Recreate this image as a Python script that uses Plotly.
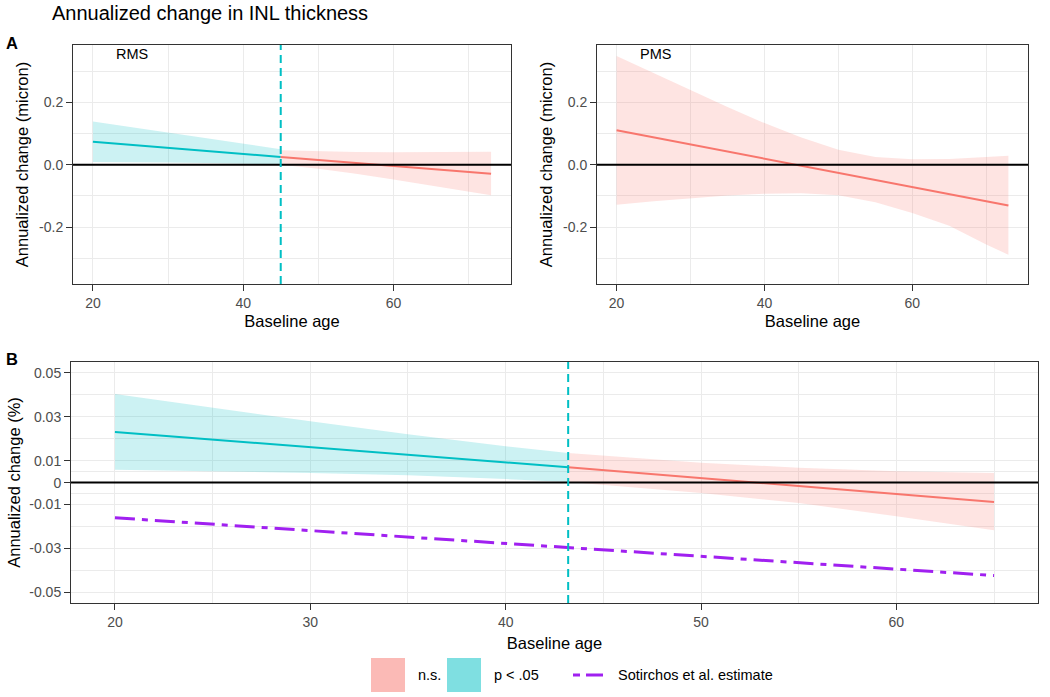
import plotly.graph_objects as go

# ---------------- data ----------------
# Panel A (left): RMS, micron
rms_sig_age = [20, 25, 30, 35, 40, 45]
rms_sig_fit = [0.074, 0.064, 0.054, 0.045, 0.035, 0.025]
rms_sig_upper = [0.139, 0.121, 0.104, 0.086, 0.068, 0.050]
rms_sig_lower = [0.0087, 0.0080, 0.0075, 0.0060, 0.0040, 0.0005]

rms_ns_age = [45, 50, 55, 60, 65, 70, 73]
rms_ns_fit = [0.025, 0.015, 0.006, -0.004, -0.013, -0.023, -0.029]
rms_ns_upper = [0.047, 0.043, 0.041, 0.040, 0.040, 0.041, 0.042]
rms_ns_lower = [0.0005, -0.013, -0.029, -0.047, -0.066, -0.086, -0.098]

# Panel A (right): PMS, micron
pms_age = [20, 25, 30, 35, 40, 45, 50, 55, 60, 65, 70, 73]
pms_fit = [0.111, 0.088, 0.065, 0.043, 0.020, -0.003, -0.026, -0.049, -0.072, -0.094, -0.117, -0.131]
pms_upper = [0.350, 0.295, 0.240, 0.186, 0.134, 0.088, 0.048, 0.025, 0.018, 0.019, 0.025, 0.029]
pms_lower = [-0.128, -0.117, -0.107, -0.099, -0.093, -0.091, -0.098, -0.120, -0.155, -0.196, -0.256, -0.289]

# Panel B: percent
pct_sig_age = [20, 25, 30, 35, 40, 43.2]
pct_sig_fit = [0.0230, 0.0196, 0.0161, 0.0127, 0.0092, 0.0070]
pct_sig_upper = [0.0403, 0.0340, 0.0279, 0.0220, 0.0165, 0.0135]
pct_sig_lower = [0.0059, 0.0052, 0.0044, 0.0033, 0.0016, 0.0003]

pct_ns_age = [43.2, 47, 50, 55, 60, 65]
pct_ns_fit = [0.0070, 0.0042, 0.0021, -0.0016, -0.0052, -0.0088]
pct_ns_upper = [0.0135, 0.0108, 0.0090, 0.0068, 0.0052, 0.0044]
pct_ns_lower = [0.0003, -0.0025, -0.0047, -0.0093, -0.0153, -0.0217]

sotirchos_age = [20, 65]
sotirchos_est = [-0.0160, -0.0423]

rms_cut = 45
pct_cut = 43.2

# ticks
a_xticks = [20, 40, 60]
a_yticks = [-0.2, 0.0, 0.2]
a_yticktext = ["-0.2", "0.0", "0.2"]
b_xticks = [20, 30, 40, 50, 60]
b_yticks = [-0.05, -0.03, -0.01, 0, 0.01, 0.03, 0.05]
b_yticktext = ["-0.05", "-0.03", "-0.01", "0", "0.01", "0.03", "0.05"]
b_yminor = [-0.04, -0.02, -0.005, 0.005, 0.02, 0.04]

legend_labels = ["n.s.", "p < .05", "Sotirchos et al. estimate"]

# ---------------- style ----------------
RED = "#F8766D"
TEAL = "#00BFC4"
PURPLE = "#A020F0"
RED_FILL = "rgba(248,118,109,0.2)"
TEAL_FILL = "rgba(0,191,196,0.2)"
FONT = "Liberation Sans, Arial, sans-serif"
W, H = 1050, 697


def px(x):
    return x / W


def py(y):
    return 1 - y / H


fig = go.Figure()


def band(age, up, lo, fill, xa, ya, name):
    fig.add_trace(go.Scatter(
        x=list(age) + list(age)[::-1], y=list(up) + list(lo)[::-1],
        fill="toself", fillcolor=fill, line=dict(width=0), mode="lines",
        xaxis=xa, yaxis=ya, showlegend=False, hoverinfo="skip", name=name))


def fitline(age, fit, color, xa, ya, name):
    fig.add_trace(go.Scatter(
        x=age, y=fit, mode="lines", line=dict(color=color, width=2),
        xaxis=xa, yaxis=ya, showlegend=False, name=name))


# Panel A left
band(rms_sig_age, rms_sig_upper, rms_sig_lower, TEAL_FILL, "x", "y", "p < .05")
band(rms_ns_age, rms_ns_upper, rms_ns_lower, RED_FILL, "x", "y", "n.s.")
fitline(rms_sig_age, rms_sig_fit, TEAL, "x", "y", "p < .05")
fitline(rms_ns_age, rms_ns_fit, RED, "x", "y", "n.s.")

# Panel A right
band(pms_age, pms_upper, pms_lower, RED_FILL, "x2", "y2", "n.s.")
fitline(pms_age, pms_fit, RED, "x2", "y2", "n.s.")

# Panel B
band(pct_sig_age, pct_sig_upper, pct_sig_lower, TEAL_FILL, "x3", "y3", "p < .05")
band(pct_ns_age, pct_ns_upper, pct_ns_lower, RED_FILL, "x3", "y3", "n.s.")
fitline(pct_sig_age, pct_sig_fit, TEAL, "x3", "y3", "p < .05")
fitline(pct_ns_age, pct_ns_fit, RED, "x3", "y3", "n.s.")
fig.add_trace(go.Scatter(
    x=sotirchos_age, y=sotirchos_est, mode="lines",
    line=dict(color=PURPLE, width=3, dash="20px,7px,6px,7px"),
    xaxis="x3", yaxis="y3", showlegend=False, name=legend_labels[2]))

GRID = "#EBEBEB"
BORDER = "#333333"
TICKFONT = dict(family=FONT, size=14, color="#4D4D4D")
TITLEFONT = dict(family=FONT, size=16.5, color="black")


def xaxis(domain, anchor, rng, ticks, minor_dtick, standoff):
    return dict(domain=domain, anchor=anchor, range=rng, tickmode="array",
                tickvals=ticks, ticktext=[str(t) for t in ticks],
                showgrid=True, gridcolor=GRID, gridwidth=1.2,
                minor=dict(dtick=minor_dtick, tick0=0, showgrid=True, gridcolor=GRID, gridwidth=0.6, ticks=""),
                showline=True, linecolor=BORDER, linewidth=1, mirror=True,
                ticks="outside", ticklen=6, tickcolor=BORDER, tickwidth=1,
                tickfont=TICKFONT, zeroline=False,
                title=dict(text="Baseline age", font=TITLEFONT, standoff=standoff))


def yaxis(domain, anchor, rng, ticks, text, minor, title, standoff):
    m = dict(showgrid=True, gridcolor=GRID, gridwidth=0.6, ticks="")
    m.update(minor)
    return dict(domain=domain, anchor=anchor, range=rng, tickmode="array",
                tickvals=ticks, ticktext=text,
                showgrid=True, gridcolor=GRID, gridwidth=1.2, minor=m,
                showline=True, linecolor=BORDER, linewidth=1, mirror=True,
                ticks="outside", ticklen=6, tickcolor=BORDER, tickwidth=1,
                tickfont=TICKFONT, zeroline=False,
                title=dict(text=title, font=TITLEFONT, standoff=standoff))


a_ydom = [py(284), py(45)]
b_ydom = [py(603), py(362)]

fig.update_layout(
    width=W, height=H, margin=dict(l=0, r=0, t=0, b=0),
    paper_bgcolor="white", plot_bgcolor="white",
    font=dict(family=FONT),
    showlegend=False,
    xaxis=xaxis([px(73), px(511)], "y", [17.35, 75.65], a_xticks, 10, 5),
    yaxis=yaxis(a_ydom, "x", [-0.383, 0.385], a_yticks, a_yticktext,
                dict(dtick=0.1, tick0=0.1), "Annualized change (micron)", 6),
    xaxis2=xaxis([px(597), px(1028)], "y2", [17.35, 75.65], a_xticks, 10, 5),
    yaxis2=yaxis(a_ydom, "x2", [-0.383, 0.385], a_yticks, a_yticktext,
                 dict(dtick=0.1, tick0=0.1), "Annualized change (micron)", 6),
    xaxis3=xaxis([px(71), px(1038)], "y3", [17.75, 67.25], b_xticks, 5, 8),
    yaxis3=yaxis(b_ydom, "x3", [-0.0548, 0.0549], b_yticks, b_yticktext,
                 dict(tickmode="array", tickvals=b_yminor), "Annualized change (%)", 4),
)

shapes = []
# zero lines
for xa, ya in [("x", "y"), ("x2", "y2"), ("x3", "y3")]:
    shapes.append(dict(type="line", xref=f"{xa} domain", x0=0, x1=1, yref=ya, y0=0, y1=0,
                       line=dict(color="black", width=2)))
# cut points
shapes.append(dict(type="line", xref="x", x0=rms_cut, x1=rms_cut, yref="y domain", y0=0, y1=1,
                   line=dict(color=TEAL, width=2, dash="8px,5px")))
shapes.append(dict(type="line", xref="x3", x0=pct_cut, x1=pct_cut, yref="y3 domain", y0=0, y1=1,
                   line=dict(color=TEAL, width=2, dash="8px,5px")))

# legend (manual, ggplot-style large keys)
shapes.append(dict(type="rect", xref="paper", yref="paper", x0=px(371), x1=px(405), y0=py(692), y1=py(658),
                   fillcolor="rgba(248,118,109,0.5)", line=dict(width=0)))
shapes.append(dict(type="rect", xref="paper", yref="paper", x0=px(447), x1=px(481), y0=py(692), y1=py(658),
                   fillcolor="rgba(0,191,196,0.5)", line=dict(width=0)))
shapes.append(dict(type="line", xref="paper", yref="paper", x0=px(573), x1=px(580), y0=py(675), y1=py(675),
                   line=dict(color=PURPLE, width=3)))
shapes.append(dict(type="line", xref="paper", yref="paper", x0=px(586), x1=px(603), y0=py(675), y1=py(675),
                   line=dict(color=PURPLE, width=3)))
fig.update_layout(shapes=shapes)

ann = []
ann.append(dict(text="Annualized change in INL thickness", xref="paper", yref="paper",
                x=px(50), y=py(13), xanchor="left", yanchor="middle", showarrow=False,
                font=dict(family=FONT, size=20, color="black")))
ann.append(dict(text="<b>A</b>", xref="paper", yref="paper", x=px(4), y=py(43),
                xanchor="left", yanchor="middle", showarrow=False,
                font=dict(family=FONT, size=16.5, color="black")))
ann.append(dict(text="<b>B</b>", xref="paper", yref="paper", x=px(4), y=py(359),
                xanchor="left", yanchor="middle", showarrow=False,
                font=dict(family=FONT, size=16.5, color="black")))
ann.append(dict(text="RMS", xref="x", yref="y", x=25.2, y=0.357, showarrow=False,
                font=dict(family=FONT, size=14.5, color="black")))
ann.append(dict(text="PMS", xref="x2", yref="y2", x=25.3, y=0.357, showarrow=False,
                font=dict(family=FONT, size=14.5, color="black")))
for xpix, lab in zip([416, 492, 616], legend_labels):
    ann.append(dict(text=lab, xref="paper", yref="paper", x=px(xpix), y=py(675),
                    xanchor="left", yanchor="middle", showarrow=False,
                    font=dict(family=FONT, size=14.5, color="black")))
fig.update_layout(annotations=ann)

fig.write_html("out.html", config={"displayModeBar": False},
               post_script="document.body.style.margin='0px';")
